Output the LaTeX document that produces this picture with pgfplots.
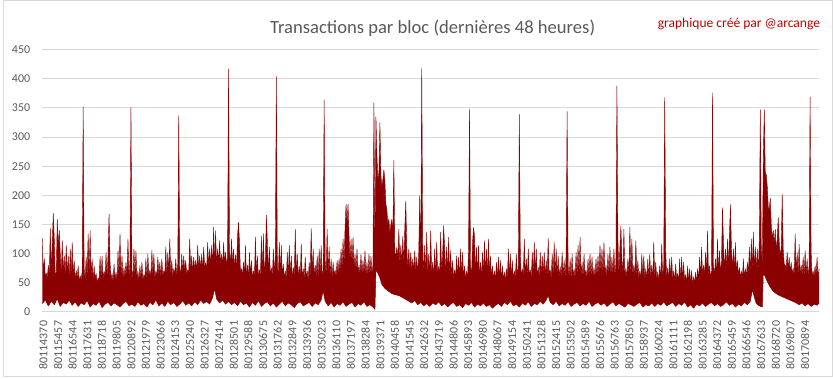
\documentclass[border=0pt]{standalone}
\usepackage{fontspec}
\setmainfont{Carlito}
\usepackage{pgfplots}
\usepackage{pgfplotstable}
\pgfplotsset{compat=1.18}
\usepgfplotslibrary{fillbetween}
\definecolor{barred}{RGB}{139,0,0}
\definecolor{gridgray}{RGB}{217,217,217}
\definecolor{txtgray}{RGB}{89,89,89}
\definecolor{credred}{RGB}{192,0,0}
% upper envelope, one value per pixel column, x = 39 + row index
\pgfplotstableread[row sep=\\]{
y\\
126\\ 68\\ 91\\ 60\\ 66\\ 58\\ 80\\ 62\\ 143\\ 70\\
120\\ 169\\ 125\\ 62\\ 68\\ 159\\ 110\\ 140\\ 100\\ 64\\
122\\ 66\\ 96\\ 58\\ 114\\ 62\\ 96\\ 55\\ 108\\ 60\\
119\\ 58\\ 88\\ 52\\ 71\\ 56\\ 79\\ 50\\ 62\\ 54\\
70\\ 352\\ 74\\ 55\\ 94\\ 60\\ 134\\ 64\\ 139\\ 58\\
91\\ 52\\ 79\\ 56\\ 66\\ 50\\ 58\\ 54\\ 95\\ 57\\
96\\ 55\\ 70\\ 60\\ 102\\ 58\\ 99\\ 168\\ 86\\ 54\\
66\\ 50\\ 82\\ 56\\ 68\\ 52\\ 105\\ 60\\ 134\\ 58\\
96\\ 55\\ 76\\ 58\\ 85\\ 62\\ 125\\ 57\\ 88\\ 352\\
72\\ 56\\ 108\\ 60\\ 105\\ 55\\ 70\\ 52\\ 79\\ 57\\
85\\ 53\\ 64\\ 58\\ 91\\ 55\\ 99\\ 60\\ 72\\ 56\\
105\\ 62\\ 99\\ 57\\ 70\\ 60\\ 94\\ 63\\ 85\\ 58\\
91\\ 62\\ 70\\ 65\\ 111\\ 60\\ 102\\ 66\\ 125\\ 62\\
88\\ 60\\ 74\\ 64\\ 91\\ 60\\ 82\\ 337\\ 76\\ 62\\
99\\ 66\\ 96\\ 70\\ 88\\ 64\\ 72\\ 68\\ 125\\ 70\\
96\\ 66\\ 94\\ 72\\ 88\\ 68\\ 114\\ 70\\ 96\\ 73\\
99\\ 70\\ 111\\ 76\\ 84\\ 72\\ 119\\ 78\\ 108\\ 80\\
114\\ 76\\ 145\\ 82\\ 139\\ 78\\ 108\\ 84\\ 122\\ 80\\
99\\ 78\\ 119\\ 84\\ 102\\ 80\\ 94\\ 417\\ 102\\ 82\\
125\\ 78\\ 108\\ 74\\ 98\\ 70\\ 130\\ 154\\ 119\\ 66\\
74\\ 62\\ 85\\ 64\\ 114\\ 60\\ 80\\ 58\\ 102\\ 62\\
88\\ 57\\ 70\\ 60\\ 128\\ 62\\ 96\\ 58\\ 72\\ 60\\
130\\ 64\\ 134\\ 62\\ 90\\ 166\\ 119\\ 66\\ 111\\ 62\\
75\\ 60\\ 108\\ 64\\ 99\\ 404\\ 80\\ 62\\ 119\\ 66\\
114\\ 60\\ 82\\ 57\\ 70\\ 54\\ 102\\ 58\\ 114\\ 60\\
96\\ 56\\ 76\\ 60\\ 142\\ 62\\ 99\\ 58\\ 78\\ 60\\
116\\ 56\\ 74\\ 55\\ 94\\ 58\\ 70\\ 54\\ 85\\ 60\\
143\\ 62\\ 108\\ 58\\ 80\\ 60\\ 96\\ 57\\ 108\\ 62\\
114\\ 60\\ 72\\ 364\\ 90\\ 62\\ 142\\ 64\\ 111\\ 60\\
91\\ 58\\ 85\\ 62\\ 72\\ 60\\ 88\\ 64\\ 91\\ 68\\
108\\ 72\\ 125\\ 80\\ 145\\ 185\\ 150\\ 185\\ 130\\ 88\\
125\\ 82\\ 128\\ 76\\ 99\\ 70\\ 108\\ 66\\ 80\\ 64\\
99\\ 62\\ 88\\ 64\\ 105\\ 60\\ 85\\ 62\\ 99\\ 60\\
96\\ 64\\ 80\\ 359\\ 96\\ 335\\ 270\\ 225\\ 240\\ 325\\
235\\ 215\\ 228\\ 244\\ 225\\ 185\\ 175\\ 150\\ 160\\ 135\\
150\\ 159\\ 134\\ 260\\ 102\\ 95\\ 111\\ 88\\ 142\\ 84\\
114\\ 80\\ 130\\ 78\\ 145\\ 190\\ 108\\ 74\\ 108\\ 72\\
102\\ 70\\ 91\\ 68\\ 105\\ 66\\ 94\\ 64\\ 102\\ 199\\
85\\ 418\\ 116\\ 64\\ 114\\ 62\\ 137\\ 60\\ 99\\ 62\\
139\\ 64\\ 85\\ 60\\ 108\\ 62\\ 119\\ 66\\ 78\\ 62\\
137\\ 66\\ 100\\ 148\\ 110\\ 64\\ 111\\ 66\\ 128\\ 62\\
105\\ 60\\ 88\\ 56\\ 72\\ 58\\ 96\\ 60\\ 94\\ 57\\
108\\ 60\\ 102\\ 58\\ 79\\ 55\\ 70\\ 58\\ 105\\ 349\\
80\\ 62\\ 119\\ 145\\ 130\\ 64\\ 111\\ 62\\ 114\\ 60\\
85\\ 58\\ 102\\ 62\\ 122\\ 64\\ 108\\ 60\\ 125\\ 62\\
96\\ 58\\ 79\\ 55\\ 70\\ 54\\ 85\\ 58\\ 94\\ 56\\
88\\ 55\\ 79\\ 54\\ 68\\ 52\\ 74\\ 56\\ 108\\ 60\\
99\\ 58\\ 88\\ 55\\ 70\\ 57\\ 99\\ 60\\ 80\\ 339\\
102\\ 58\\ 74\\ 60\\ 125\\ 62\\ 91\\ 58\\ 108\\ 60\\
72\\ 58\\ 102\\ 62\\ 119\\ 64\\ 108\\ 60\\ 76\\ 58\\
102\\ 60\\ 96\\ 62\\ 102\\ 58\\ 88\\ 60\\ 126\\ 62\\
72\\ 58\\ 99\\ 60\\ 119\\ 62\\ 108\\ 60\\ 96\\ 57\\
78\\ 58\\ 102\\ 60\\ 88\\ 58\\ 99\\ 344\\ 80\\ 58\\
91\\ 56\\ 99\\ 58\\ 74\\ 56\\ 102\\ 60\\ 114\\ 62\\
128\\ 60\\ 85\\ 58\\ 99\\ 60\\ 72\\ 57\\ 91\\ 60\\
99\\ 58\\ 94\\ 60\\ 76\\ 58\\ 91\\ 60\\ 96\\ 62\\
114\\ 64\\ 108\\ 62\\ 119\\ 64\\ 80\\ 60\\ 99\\ 62\\
111\\ 60\\ 94\\ 62\\ 108\\ 60\\ 85\\ 388\\ 125\\ 64\\
110\\ 148\\ 90\\ 62\\ 142\\ 60\\ 75\\ 58\\ 91\\ 60\\
145\\ 64\\ 125\\ 62\\ 80\\ 60\\ 122\\ 62\\ 88\\ 58\\
70\\ 56\\ 99\\ 58\\ 96\\ 56\\ 74\\ 54\\ 91\\ 56\\
99\\ 58\\ 80\\ 56\\ 119\\ 58\\ 85\\ 55\\ 68\\ 52\\
79\\ 55\\ 116\\ 58\\ 80\\ 368\\ 105\\ 58\\ 75\\ 55\\
91\\ 56\\ 94\\ 54\\ 70\\ 52\\ 82\\ 54\\ 66\\ 50\\
91\\ 52\\ 94\\ 54\\ 85\\ 50\\ 64\\ 48\\ 79\\ 50\\
74\\ 48\\ 71\\ 46\\ 60\\ 48\\ 68\\ 50\\ 74\\ 54\\
94\\ 58\\ 111\\ 60\\ 80\\ 62\\ 102\\ 64\\ 139\\ 62\\
79\\ 60\\ 70\\ 376\\ 80\\ 62\\ 91\\ 64\\ 125\\ 66\\
105\\ 68\\ 85\\ 179\\ 120\\ 70\\ 108\\ 72\\ 125\\ 74\\
134\\ 184\\ 110\\ 72\\ 108\\ 70\\ 119\\ 66\\ 88\\ 62\\
76\\ 58\\ 70\\ 56\\ 91\\ 58\\ 74\\ 60\\ 85\\ 64\\
111\\ 66\\ 125\\ 70\\ 137\\ 72\\ 111\\ 70\\ 108\\ 68\\
125\\ 347\\ 110\\ 80\\ 265\\ 347\\ 240\\ 235\\ 215\\ 180\\
175\\ 195\\ 150\\ 125\\ 140\\ 115\\ 142\\ 105\\ 125\\ 162\\
120\\ 95\\ 110\\ 202\\ 108\\ 82\\ 80\\ 76\\ 102\\ 72\\
94\\ 68\\ 85\\ 64\\ 75\\ 62\\ 134\\ 64\\ 102\\ 62\\
116\\ 60\\ 80\\ 62\\ 94\\ 60\\ 105\\ 62\\ 91\\ 60\\
80\\ 369\\ 105\\ 58\\ 70\\ 60\\ 79\\ 62\\ 94\\ 58\\
74\\
}\hidata
\begin{document}
\begin{tikzpicture}
\draw[gridgray, line width=0.75pt] (0.375pt,0.375pt) rectangle (624.375pt,283.875pt);
\node[text=txtgray, font=\fontsize{14}{16}\selectfont] at (323.25pt,263.25pt) {Transactions par bloc (dernières 48 heures)};
\node[text=credred, font=\fontsize{10.2}{12}\selectfont, anchor=east] at (618.5pt,266.5pt) {graphique créé par @arcange};
\begin{axis}[
  at={(29.25pt,49.5pt)}, anchor=south west,
  scale only axis, width=585pt, height=197.25pt,
  xmin=39, xmax=819, ymin=0, ymax=450,
  ytick={0,50,...,450},
  xtick={40.00,54.71,69.42,84.13,98.84,113.55,128.26,142.97,157.68,172.39,187.10,201.81,216.52,231.23,245.94,260.65,275.36,290.07,304.78,319.49,334.20,348.91,363.62,378.33,393.04,407.75,422.46,437.17,451.88,466.59,481.30,496.01,510.72,525.43,540.14,554.85,569.56,584.27,598.98,613.69,628.40,643.11,657.82,672.53,687.24,701.95,716.66,731.37,746.08,760.79,775.50,790.21,804.92},
  xticklabels={80114370,80115457,80116544,80117631,80118718,80119805,80120892,80121979,80123066,80124153,80125240,80126327,80127414,80128501,80129588,80130675,80131762,80132849,80133936,80135023,80136110,80137197,80138284,80139371,80140458,80141545,80142632,80143719,80144806,80145893,80146980,80148067,80149154,80150241,80151328,80152415,80153502,80154589,80155676,80156763,80157850,80158937,80160024,80161111,80162198,80163285,80164372,80165459,80166546,80167633,80168720,80169807,80170894},
  ymajorgrids, grid style={gridgray, line width=0.75pt},
  axis line style={draw=none},
  major tick length=0pt,
  tick label style={font=\fontsize{9}{10}\selectfont, text=txtgray},
  yticklabel style={anchor=east, inner xsep=9pt},
  xticklabel style={rotate=90, anchor=east, inner xsep=6.75pt},
  /pgf/number format/assume math mode=true,
  clip=false,
]
\addplot[barred, line width=0.3pt, line join=round, name path=hi] table[x expr=\coordindex+39, y=y] {\hidata};
\addplot[barred, line width=0.4pt, line join=round, name path=lo] coordinates {
(39,14) (42,20) (45,10) (48,18) (51,12) (54,22) (57,9) (60,16) (63,13) (66,20) (69,11) (72,17) (75,9) (78,15) (81,12) (84,19) (87,8) (90,14) (93,11) (96,18) (99,7) (102,13) (105,16) (108,10) (111,15) (114,12) (117,8) (120,14) (123,18) (126,10) (129,13) (132,9) (135,17) (138,11) (141,14) (144,8) (147,16) (150,12) (153,20) (156,10) (159,15) (162,9) (165,18) (168,12) (171,16) (174,9) (177,13) (180,19) (183,11) (186,15) (189,10) (192,17) (195,12) (198,20) (201,14) (204,18) (207,13) (210,24) (212,40) (214,22) (217,15) (220,20) (223,13) (226,18) (229,12) (232,16)
(235,10) (238,18) (241,12) (244,15) (247,8) (250,16) (253,11) (256,19) (259,9) (262,14) (265,17) (268,10) (271,15) (274,8) (277,13) (280,18) (283,10) (286,15) (289,12) (292,7) (295,14) (298,17) (301,10) (304,13) (307,16) (310,9) (313,15) (316,12) (319,20) (321,36) (323,18) (326,10) (329,16) (332,8) (335,14) (338,11) (341,17) (344,9) (347,13) (350,16) (353,8) (356,14) (359,11) (362,17) (365,9) (368,12) (371,8) (373,4) (374,72) (376,66) (378,58) (380,47) (383,40) (386,36) (390,31) (394,29) (398,27) (403,22) (407,18) (410,15) (413,19) (416,12) (419,16) (422,10) (425,14)
(428,9) (431,15) (434,12) (437,17) (440,10) (443,14) (446,8) (449,13) (452,16) (455,9) (458,12) (461,7) (464,14) (467,11) (470,16) (473,8) (476,13) (479,10) (482,15) (485,9) (488,12) (491,6) (494,11) (497,14) (500,9) (503,16) (506,12) (509,18) (512,10) (515,13) (518,8) (521,15) (524,11) (527,17) (530,9) (533,14) (536,12) (539,18) (542,13) (545,20) (547,28) (549,16) (552,12) (555,18) (558,10) (561,14) (564,11) (567,17) (570,9) (573,13) (576,16) (579,10) (582,14) (585,11) (588,18) (591,9) (594,13) (597,16) (600,11) (603,15) (606,9) (609,13) (612,17) (615,10) (618,14)
(621,11) (624,8) (627,14) (630,12) (633,9) (636,13) (639,16) (642,8) (645,12) (648,10) (651,15) (654,9) (657,14) (660,11) (663,17) (666,10) (669,13) (672,16) (675,9) (678,14) (681,11) (684,17) (687,8) (690,12) (693,6) (696,13) (699,10) (702,15) (705,9) (708,13) (711,16) (714,10) (717,14) (720,9) (723,12) (726,17) (729,11) (732,14) (735,8) (738,13) (741,10) (744,16) (747,12) (750,18) (752,38) (754,25) (756,14) (759,10) (762,8) (763,66) (765,60) (767,52) (770,42) (773,35) (776,31) (779,28) (783,25) (787,22) (791,19) (795,16) (799,12) (802,15) (805,10) (808,14) (811,9) (814,13) (817,11) (819,15)
};
\addplot[fill=barred, draw=none] fill between[of=hi and lo];
\end{axis}
\end{tikzpicture}
\end{document}
